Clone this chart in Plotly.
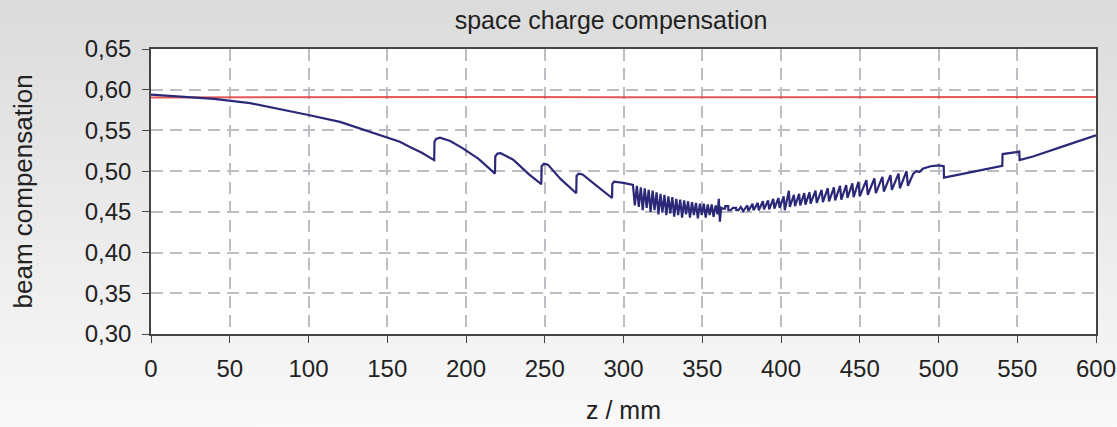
import base64
import plotly.graph_objects as go

# ---- data -------------------------------------------------------------
# position along the beam line (mm) and simulated beam compensation
z_beam = [
    0, 20, 40, 63, 80, 100, 120, 150, 158, 165, 172, 179.8,
    180.0, 181.0, 183.5, 190, 198, 208, 218.4,
    218.6, 220.0, 222.0, 230.0, 240.0, 247.8,
    248.0, 249.5, 252.0, 260.0, 270.0,
    270.2, 271.5, 274.0, 283.0, 292.7,
    292.9, 294.0, 300.0,
    306.0, 307.2, 308.5, 309.7, 311.0, 312.2, 313.5, 314.7, 316.0, 317.2,
    318.5, 319.7, 321.0, 322.2, 323.5, 324.7, 326.0, 327.2, 328.5, 329.7,
    331.0, 332.2, 333.5, 334.7, 336.0, 337.2, 338.5, 339.7, 341.0, 342.2,
    343.5, 344.7, 346.0, 347.2, 348.5, 349.7, 351.0, 352.2, 353.5, 354.7,
    356.0, 357.2, 358.5, 359.7, 360.5, 361.2, 362.0,
    363.0, 364.5, 364.6, 366.5, 366.6, 368.0, 369.5, 371.5, 371.6, 373.0, 374.5,
    376.0, 378.6, 379.3, 381.9, 382.6, 385.2, 385.9, 388.5, 389.2, 391.8,
    392.5, 395.1, 395.8, 398.4, 399.1, 401.7, 402.4, 405.0, 405.6, 408.2,
    408.9, 411.5, 412.2, 414.8, 415.5, 418.1, 418.8, 421.9, 422.7, 425.8,
    426.6, 429.7, 430.5, 433.6, 434.4, 437.5, 438.3, 441.4, 442.2, 445.3,
    446.1, 449.2, 450.0, 454.2, 455.1, 459.3, 460.2, 464.4, 465.3, 469.5,
    470.4, 474.6, 475.5, 479.7, 480.6,
    484.0, 486.0, 488.0, 490.0, 495.0, 500.0, 503.3,
    503.5, 520.0, 540.5,
    540.7, 545.0, 551.3,
    551.5, 560.0, 580.0, 600.0,
]
c_beam = [
    0.594, 0.5915, 0.5888, 0.5835, 0.577, 0.569, 0.5605, 0.5415, 0.536, 0.529, 0.5225, 0.5135,
    0.536, 0.5395, 0.541, 0.537, 0.528, 0.515, 0.497,
    0.518, 0.5215, 0.522, 0.514, 0.496, 0.484,
    0.506, 0.509, 0.508, 0.4905, 0.4728,
    0.494, 0.497, 0.496, 0.482, 0.467,
    0.484, 0.487, 0.4855,
    0.483, 0.458, 0.482, 0.456, 0.480, 0.452, 0.479, 0.455, 0.477, 0.450,
    0.476, 0.452, 0.474, 0.447, 0.472, 0.449, 0.471, 0.446, 0.469, 0.448,
    0.468, 0.444, 0.466, 0.446, 0.465, 0.443, 0.464, 0.447, 0.463, 0.443,
    0.462, 0.446, 0.461, 0.442, 0.460, 0.446, 0.460, 0.443, 0.459, 0.446,
    0.459, 0.444, 0.458, 0.447, 0.466, 0.438, 0.455,
    0.454, 0.454, 0.457, 0.457, 0.452, 0.452, 0.455, 0.455, 0.452, 0.452, 0.456,
    0.451, 0.458, 0.451, 0.460, 0.452, 0.461, 0.452, 0.463, 0.453, 0.464,
    0.453, 0.466, 0.454, 0.467, 0.455, 0.469, 0.452, 0.476, 0.456, 0.471,
    0.457, 0.472, 0.458, 0.473, 0.459, 0.474, 0.460, 0.476, 0.461, 0.477,
    0.462, 0.479, 0.463, 0.480, 0.464, 0.482, 0.465, 0.483, 0.467, 0.485,
    0.468, 0.487, 0.469, 0.489, 0.471, 0.491, 0.473, 0.493, 0.475, 0.495,
    0.477, 0.497, 0.479, 0.500, 0.482,
    0.497, 0.500, 0.499, 0.503, 0.506, 0.507, 0.506,
    0.492, 0.4985, 0.5065,
    0.521, 0.522, 0.524,
    0.5135, 0.518, 0.531, 0.544,
]

# reference compensation level
z_ref = [0, 100, 200, 300, 400, 500, 600]
c_ref = [0.5905, 0.591, 0.591, 0.5908, 0.591, 0.591, 0.591]

x_ticks = [0, 50, 100, 150, 200, 250, 300, 350, 400, 450, 500, 550, 600]
y_ticks = [0.30, 0.35, 0.40, 0.45, 0.50, 0.55, 0.60, 0.65]

# ---- figure -----------------------------------------------------------
W, H = 1117, 427
ML, MR, MT, MB = 151, 21, 49, 93
PW, PH = W - ML - MR, H - MT - MB
FONT = "Liberation Sans, Arial, sans-serif"
TXT = "#222222"

fig = go.Figure()
fig.add_trace(go.Scatter(x=z_ref, y=c_ref, mode="lines",
                         line=dict(color="#e23a3a", width=2),
                         opacity=0.85, hoverinfo="skip", showlegend=False))
fig.add_trace(go.Scatter(x=z_beam, y=c_beam, mode="lines",
                         line=dict(color="#2b2878", width=2.2),
                         showlegend=False))

# soft vertical gradient behind the whole chart
grad_svg = (
    f'<svg xmlns="http://www.w3.org/2000/svg" width="{W}" height="{H}">'
    '<defs><linearGradient id="g" x1="0" y1="0" x2="0" y2="1">'
    '<stop offset="0" stop-color="#dbdbdb"/>'
    '<stop offset="1" stop-color="#f9f9f9"/>'
    '</linearGradient></defs>'
    f'<rect width="{W}" height="{H}" fill="url(#g)"/></svg>'
)
grad_src = "data:image/svg+xml;base64," + base64.b64encode(grad_svg.encode()).decode()

fig.add_layout_image(dict(
    source=grad_src, xref="paper", yref="paper",
    x=-ML / PW, y=1 + MT / PH, sizex=W / PW, sizey=H / PH,
    xanchor="left", yanchor="top", sizing="stretch", layer="below",
))
# white plotting area on top of the gradient
fig.add_shape(type="rect", xref="paper", yref="paper", x0=0, x1=1, y0=0, y1=1,
              fillcolor="white", line=dict(width=0), layer="below")

grid = dict(showgrid=True, gridcolor="#bdbdc4", gridwidth=2, griddash="12px,7px")

fig.update_xaxes(
    range=[0, 600], tickvals=x_ticks, ticktext=[str(v) for v in x_ticks],
    showline=True, linecolor="#444444", linewidth=1.5, mirror=True,
    ticks="outside", ticklen=7, tickcolor="#444444", tickwidth=1.2,
    tickfont=dict(family=FONT, size=24, color=TXT), ticklabelstandoff=5,
    zeroline=False, fixedrange=True, automargin=False, **grid,
)
fig.update_yaxes(
    range=[0.30, 0.65], tickvals=y_ticks, tickformat=".2f",
    showline=True, linecolor="#444444", linewidth=1.5, mirror=True,
    ticks="outside", ticklen=7, tickcolor="#444444", tickwidth=1.2,
    tickfont=dict(family=FONT, size=24, color=TXT), ticklabelstandoff=6,
    zeroline=False, fixedrange=True, automargin=False, **grid,
)

fig.update_layout(
    width=W, height=H,
    margin=dict(l=ML, r=MR, t=MT, b=MB, pad=0, autoexpand=False),
    autosize=False,
    paper_bgcolor="#ececec",
    plot_bgcolor="white",
    separators=", ",
    title=dict(text="space charge compensation", x=(611 - ML) / PW, xref="paper",
               y=1 - 20 / H, yref="container", xanchor="center", yanchor="middle",
               font=dict(family=FONT, size=25, color=TXT)),
    annotations=[
        dict(text="beam compensation", xref="paper", yref="paper",
             x=-(ML - 22) / PW, y=0.5, textangle=-90, showarrow=False,
             xanchor="center", yanchor="middle",
             font=dict(family=FONT, size=26, color=TXT)),
        dict(text="z / mm", xref="paper", yref="paper",
             x=0.5, y=-(410 - (H - MB)) / PH, showarrow=False,
             xanchor="center", yanchor="middle",
             font=dict(family=FONT, size=25, color=TXT)),
    ],
)

fig.write_html("out.html")
